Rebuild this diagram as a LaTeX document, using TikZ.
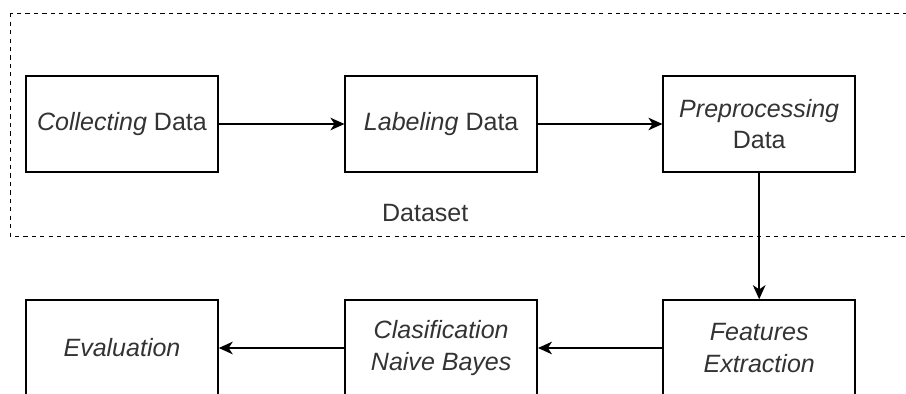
\documentclass[tikz,border=0pt]{standalone}
\usepackage{fontspec}
\setmainfont{Liberation Sans}
\usepackage{xcolor}
\usepackage{tikz}
\usetikzlibrary{arrows.meta,positioning}
\definecolor{textgray}{HTML}{333333}

\begin{document}
\begin{tikzpicture}[
    stage/.style={rectangle, draw=black, line width=1.1pt, minimum width=4.8cm, minimum height=2.4cm, align=center, text=textgray, font=\fontsize{17.8}{22.5}\selectfont},
    flow/.style={-{Stealth[length=10pt, width=9pt, inset=3pt]}, line width=1.1pt}
]
    \clip (0,0) rectangle (22.65,-9.85);
    % dataset group
    \draw[dash pattern=on 3pt off 3pt, line width=0.7pt] (0.25,-0.33) rectangle (23.5,-5.9);
    \node[text=textgray, font=\fontsize{17.8}{22.5}\selectfont] (dataset) at (10.63,-5.33) {Dataset};

    \node[stage] (collect) at (3.05,-3.1) {\textit{Collecting} Data};
    \node[stage] (label) at (11.03,-3.1) {\textit{Labeling} Data};
    \node[stage] (prep) at (18.98,-3.1) {\textit{Preprocessing}\\Data};
    \node[stage] (feat) at (18.98,-8.7) {\textit{Features}\\\textit{Extraction}};
    \node[stage] (clf) at (11.03,-8.7) {\textit{Clasification}\\\textit{Naive Bayes}};
    \node[stage] (eval) at (3.05,-8.7) {\textit{Evaluation}};

    \draw[flow] (collect) -- (label);
    \draw[flow] (label) -- (prep);
    \draw[flow] (prep) -- (feat);
    \draw[flow] (feat) -- (clf);
    \draw[flow] (clf) -- (eval);
\end{tikzpicture}
\end{document}
